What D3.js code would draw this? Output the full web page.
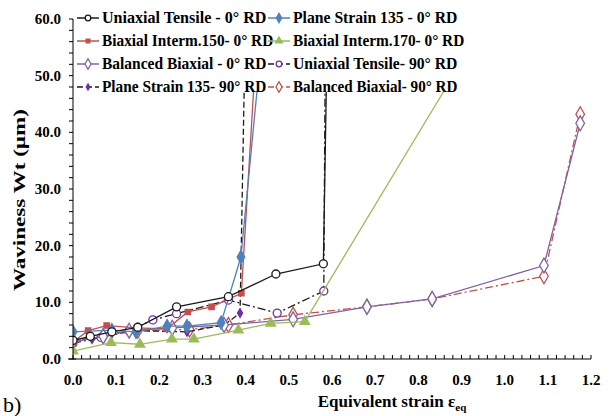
<!DOCTYPE html>
<html>
<head>
<meta charset="utf-8">
<script src="https://cdn.jsdelivr.net/npm/d3@7"></script>
</head>
<body style="margin:0; background:#fff">
<svg id="chart" width="611" height="416"></svg>
<script>
'use strict'

// ---- data ----
var seriesNames = [
  "Uniaxial Tensile - 0° RD", "Plane Strain 135 - 0° RD",
  "Biaxial Interm.150- 0° RD", "Biaxial Interm.170- 0° RD",
  "Balanced Biaxial - 0° RD", "Uniaxial Tensile- 90° RD",
  "Plane Strain 135- 90° RD", "Balanced Biaxial- 90° RD"
];

var uniaxial0X = [0, 0.04, 0.09, 0.15, 0.24, 0.36, 0.47, 0.58, 0.59];
var uniaxial0Y = [3.3, 4.0, 4.8, 5.6, 9.2, 11.0, 15.0, 16.8, 62];

var plane0X = [0, 0.09, 0.146, 0.218, 0.264, 0.343, 0.389, 0.445];
var plane0Y = [4.8, 5.1, 4.8, 5.8, 5.8, 6.4, 18.0, 62];

var biax150X = [0, 0.035, 0.078, 0.148, 0.217, 0.266, 0.321, 0.39, 0.43];
var biax150Y = [3.0, 5.0, 5.9, 5.5, 5.3, 8.3, 9.2, 11.6, 62];

var biax170X = [0, 0.088, 0.155, 0.229, 0.28, 0.383, 0.458, 0.537, 0.96];
var biax170Y = [1.4, 2.9, 2.6, 3.5, 3.5, 5.1, 6.3, 6.6, 60];

var balanced0X = [0, 0.07, 0.13, 0.23, 0.35, 0.51, 0.681, 0.832, 1.091, 1.175];
var balanced0Y = [3.0, 4.0, 5.0, 5.5, 6.0, 7.0, 9.2, 10.6, 16.5, 41.6];

var uniaxial90X = [0, 0.065, 0.13, 0.185, 0.24, 0.36, 0.473, 0.581, 0.585];
var uniaxial90Y = [2.8, 3.8, 5.0, 6.9, 8.0, 10.4, 8.1, 12.0, 62];

var plane90X = [0, 0.044, 0.09, 0.146, 0.264, 0.35, 0.387, 0.40];
var plane90Y = [3.5, 3.5, 4.5, 5.0, 4.8, 6.0, 8.1, 62];

var balanced90X = [0, 0.07, 0.15, 0.27, 0.36, 0.51, 0.681, 0.832, 1.091, 1.175];
var balanced90Y = [3.2, 4.0, 5.0, 5.2, 6.0, 7.8, 9.2, 10.6, 14.6, 43.2];

var xTicks = [0, 0.1, 0.2, 0.3, 0.4, 0.5, 0.6, 0.7, 0.8, 0.9, 1.0, 1.1, 1.2];
var yTicks = [0, 10, 20, 30, 40, 50, 60];

// ---- styles per series (same order as seriesNames) ----
var styles = [
  { color: "#1a1a1a", dash: null, marker: "circle", mfill: "#fff", mstroke: "#1a1a1a", w: 1.3 },
  { color: "#4f81bd", dash: null, marker: "diamond", mfill: "#4f81bd", mstroke: "#4f81bd", w: 1.3 },
  { color: "#c0504d", dash: null, marker: "square", mfill: "#c0504d", mstroke: "#c0504d", w: 1.3 },
  { color: "#9bbb59", dash: null, marker: "triangle", mfill: "#9bbb59", mstroke: "#9bbb59", w: 1.3 },
  { color: "#8064a2", dash: null, marker: "diamond", mfill: "#fff", mstroke: "#8064a2", w: 1.3 },
  { color: "#1a1a1a", dash: "8,3,2,3", marker: "circle", mfill: "#fff", mstroke: "#7030a0", w: 1.3 },
  { color: "#1a1a1a", dash: "6,3", marker: "diamond", mfill: "#7030a0", mstroke: "#7030a0", w: 1.3 },
  { color: "#c0504d", dash: "8,3,2,3", marker: "diamond", mfill: "#fff", mstroke: "#c0504d", w: 1.3 }
];

var xs = [uniaxial0X, plane0X, biax150X, biax170X, balanced0X, uniaxial90X, plane90X, balanced90X];
var ys = [uniaxial0Y, plane0Y, biax150Y, biax170Y, balanced0Y, uniaxial90Y, plane90Y, balanced90Y];

var pLeft = 73, pRight = 591, pTop = 19, pBottom = 359;

var svg = d3.select("#chart");

function label(sel, size, bold) {
  return sel.style("font-family", "'Liberation Serif'")
    .style("font-size", size + "px")
    .style("font-weight", bold ? "bold" : "normal")
    .style("fill", "#000");
}

var x = d3.scaleLinear().domain([0, 1.2]).range([pLeft, pRight]);
var y = d3.scaleLinear().domain([0, 60]).range([pBottom, pTop]);

svg.append("clipPath").attr("id", "plot-clip")
  .append("rect").attr("x", pLeft).attr("y", pTop)
  .attr("width", pRight - pLeft).attr("height", pBottom - pTop);

// ---- series ----
var line = d3.line().x(function (d) { return x(d[0]) }).y(function (d) { return y(d[1]) });

function drawMarker(g, type, cx, cy, st, size) {
  var s = size || 1;
  if (type == "circle") {
    g.append("circle").attr("cx", cx).attr("cy", cy).attr("r", 4 * s)
      .style("fill", st.mfill).style("stroke", st.mstroke).style("stroke-width", 1.3);
  } else {
    var sym = type == "diamond" ? d3.symbolDiamond : (type == "square" ? d3.symbolSquare : d3.symbolTriangle);
    var area = type == "diamond" ? (st.mfill == "#fff" ? 64 : 50) : (type == "square" ? 28 : 40);
    if (type == "diamond" && st.mfill == "#7030a0") area = 22;
    g.append("path").attr("d", d3.symbol().type(sym).size(area * s * s)())
      .attr("transform", "translate(" + cx + "," + cy + ")")
      .style("fill", st.mfill).style("stroke", st.mstroke).style("stroke-width", 1.3);
  }
}

var plot = svg.append("g").attr("clip-path", "url(#plot-clip)");

// draw in reverse so the 0° series sit on top like the reference
for (var i = seriesNames.length - 1; i >= 0; i--) {
  var pts = d3.zip(xs[i], ys[i]);
  var st = styles[i];
  plot.append("path").datum(pts)
    .attr("d", line)
    .style("fill", "none")
    .style("stroke", st.color)
    .style("stroke-width", st.w)
    .style("stroke-dasharray", st.dash);
  var mg = plot.append("g");
  pts.forEach(function (p) {
    if (p[1] <= 60) drawMarker(mg, st.marker, x(p[0]), y(p[1]), st);
  });
}

// ---- axes ----
var minorX = d3.range(0, 1.2001, 0.02);
var minorY = d3.range(0, 60.001, 2);

var ax = svg.append("g").style("stroke", "#000").style("stroke-width", 1);
ax.append("line").attr("x1", pLeft).attr("x2", pRight).attr("y1", pBottom).attr("y2", pBottom);
ax.append("line").attr("x1", pLeft).attr("x2", pLeft).attr("y1", pTop).attr("y2", pBottom);
ax.selectAll(".xt").data(minorX).enter().append("line")
  .attr("x1", function (d) { return x(d) }).attr("x2", function (d) { return x(d) })
  .attr("y1", pBottom).attr("y2", pBottom - 4);
ax.selectAll(".yt").data(minorY).enter().append("line")
  .attr("x1", pLeft).attr("x2", pLeft - 4)
  .attr("y1", function (d) { return y(d) }).attr("y2", function (d) { return y(d) });
ax.append("line").attr("x1", pLeft - 5).attr("x2", pLeft + 3).attr("y1", pBottom).attr("y2", pBottom);

label(svg.selectAll(".xl").data(xTicks).enter().append("text")
  .attr("x", function (d) { return x(d) }).attr("y", 385)
  .attr("text-anchor", "middle"), 15, true)
  .text(function (d) { return d.toFixed(1) });

label(svg.selectAll(".yl").data(yTicks).enter().append("text")
  .attr("x", 61).attr("y", function (d) { return y(d) + 5 })
  .attr("text-anchor", "end"), 15, true)
  .text(function (d) { return d.toFixed(1) });

// axis titles
var xt = label(svg.append("text").attr("x", 392).attr("y", 407)
  .attr("text-anchor", "middle"), 17, true);
xt.append("tspan").text("Equivalent strain ε");
xt.append("tspan").attr("dy", 4).style("font-size", "11px").text("eq");

label(svg.append("text")
  .attr("transform", "translate(25,200) rotate(-90)")
  .attr("text-anchor", "middle"), 17, true)
  .attr("textLength", 182).attr("lengthAdjust", "spacingAndGlyphs")
  .text("Waviness Wt (µm)");

label(svg.append("text").attr("x", 3).attr("y", 412), 22, false).text("b)");

// ---- legend ----
var legend = svg.append("g");
legend.append("rect").attr("x", pLeft + 2).attr("y", 6).attr("width", 420).attr("height", 86)
  .style("fill", "#fff");

var rowY = [18, 41, 64, 87];
var colX = [77, 268];
seriesNames.forEach(function (name, i) {
  var st = styles[i];
  var cx = colX[i % 2], cy = rowY[Math.floor(i / 2)];
  var g = legend.append("g");
  g.append("line").attr("x1", cx).attr("x2", cx + 22).attr("y1", cy).attr("y2", cy)
    .style("stroke", st.color).style("stroke-width", 1.5)
    .style("stroke-dasharray", st.dash ? "6,3" : null);
  drawMarker(g, st.marker, cx + 11, cy, st, 0.7);
  // squeeze to the width the labels take in the reference
  label(g.append("text").attr("x", cx + 25).attr("y", cy + 5), 16, true)
    .attr("textLength", name.length * 6.85).attr("lengthAdjust", "spacingAndGlyphs")
    .text(name);
});
</script>
</body>
</html>
